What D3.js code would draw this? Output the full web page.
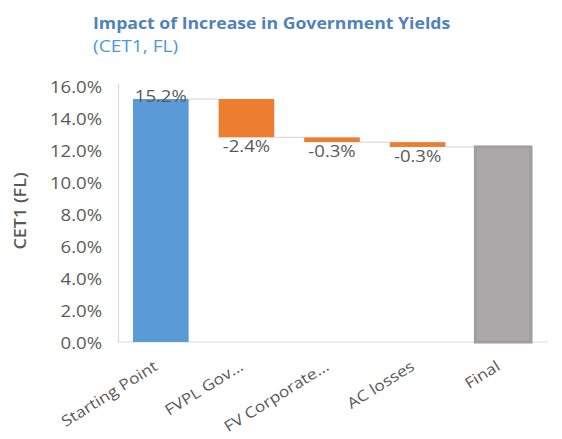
<!DOCTYPE html>
<html>
<head>
<meta charset="utf-8">
<script src="https://cdn.jsdelivr.net/npm/d3@7"></script>
<style>
  html, body { margin: 0; padding: 0; background: #fff; }
  svg { display: block; }
  text { font-family: "Open Sans", "Noto Sans", sans-serif; }
</style>
</head>
<body>
<svg id="chart" width="562" height="439"></svg>
<script>
// Waterfall of CET1 (fully loaded) ratio under higher government yields
const categories = ["Starting Point", "FVPL Gov...", "FV Corporate...", "AC losses", "Final"];
const startValue = 15.2;              // % CET1 before the shock
const stepValues = [-2.4, -0.3, -0.3]; // % impact of each component
const yTicks = [0, 2, 4, 6, 8, 10, 12, 14, 16];

const titleText = "Impact of Increase in Government Yields";
const subtitleText = "(CET1, FL)";
const yAxisTitle = "CET1 (FL)";

const colors = { start: "#5b9bd5", step: "#ed7d31", final: "#aaa8a9", text: "#595959", axis: "#d9d9d9" };
const stretch = 1.16; // horizontal widening of the lettering

const pct = v => d3.format(".1f")(v).replace("\u2212", "-") + "%";

// Build waterfall segments
const segments = [];
let running = startValue;
segments.push({ cat: categories[0], y0: 0, y1: startValue, value: startValue, kind: "start" });
stepValues.forEach((v, i) => {
  const prev = running;
  running = +(running + v).toFixed(4);
  segments.push({ cat: categories[i + 1], y0: running, y1: prev, value: v, kind: "step" });
});
segments.push({ cat: categories[4], y0: 0, y1: running, value: running, kind: "final" });

const svg = d3.select("#chart");

const x = d3.scaleBand().domain(categories).range([118, 546]).paddingInner(0.35).paddingOuter(0.175);
const y = d3.scaleLinear().domain([0, 16.2]).range([342, 83]);

// Title block
svg.append("text").attr("transform", `translate(93,29) scale(1.09,1)`)
  .attr("font-size", 16.2).attr("font-weight", 700).attr("fill", "#5082bb")
  .text(titleText);
svg.append("text").attr("transform", `translate(93,52) scale(${stretch},1)`)
  .attr("font-size", 16.5).attr("fill", "#4b9bdc")
  .text(subtitleText);

// Y axis
const yAxis = d3.axisLeft(y).tickValues(yTicks).tickSize(0).tickPadding(0).tickFormat(pct);
const gy = svg.append("g").attr("transform", "translate(118,0)").call(yAxis);
gy.select(".domain").attr("stroke", colors.axis).attr("stroke-width", 1.2);
gy.selectAll("text")
  .attr("x", 0)
  .attr("transform", `translate(-16,1) scale(${stretch},1)`)
  .attr("font-size", 16).attr("fill", colors.text)
  .attr("font-family", "'Open Sans', sans-serif");

// Baseline
svg.append("line")
  .attr("x1", 118).attr("x2", 548)
  .attr("y1", y(0)).attr("y2", y(0))
  .attr("stroke", colors.axis).attr("stroke-width", 1.2);

// Y axis title
svg.append("text")
  .attr("transform", `translate(26,211) rotate(-90) scale(${stretch},1)`)
  .attr("text-anchor", "middle").attr("font-size", 15.5).attr("font-weight", 600)
  .attr("fill", colors.text).text(yAxisTitle);

// Connector lines between consecutive bars
const levels = [startValue];
{ let r = startValue; stepValues.forEach(v => { r += v; levels.push(r); }); }
levels.forEach((lv, i) => {
  svg.append("line")
    .attr("x1", x(categories[i]) + x.bandwidth())
    .attr("x2", x(categories[i + 1]))
    .attr("y1", y(lv)).attr("y2", y(lv))
    .attr("stroke", colors.axis).attr("stroke-width", 1.2);
});

// Bars
svg.append("g").selectAll("rect").data(segments).join("rect")
  .attr("x", d => x(d.cat))
  .attr("width", x.bandwidth())
  .attr("y", d => y(d.y1))
  .attr("height", d => y(d.y0) - y(d.y1))
  .attr("fill", d => colors[d.kind])
  .attr("stroke", d => d.kind === "final" ? "#a09e9f" : "none")
  .attr("stroke-width", d => d.kind === "final" ? 3 : 0);

// Value labels
svg.append("g").selectAll("text").data(segments.filter(d => d.kind !== "final")).join("text")
  .attr("transform", d => {
    const cx = x(d.cat) + x.bandwidth() / 2;
    const by = d.kind === "start" ? y(d.y1) + 3 : y(d.y0) + 15;
    return `translate(${cx},${by}) scale(${stretch},1)`;
  })
  .attr("text-anchor", "middle").attr("font-size", 16).attr("fill", colors.text)
  .text(d => pct(d.value));

// Category labels, rotated
svg.append("g").selectAll("text").data(categories).join("text")
  .attr("transform", c => `translate(${x(c) + x.bandwidth() / 2 - 2},${y(0) + 27}) rotate(-32) scale(${stretch},1)`)
  .attr("text-anchor", "end").attr("font-size", 15).attr("fill", colors.text)
  .text(c => c);
</script>
</body>
</html>
